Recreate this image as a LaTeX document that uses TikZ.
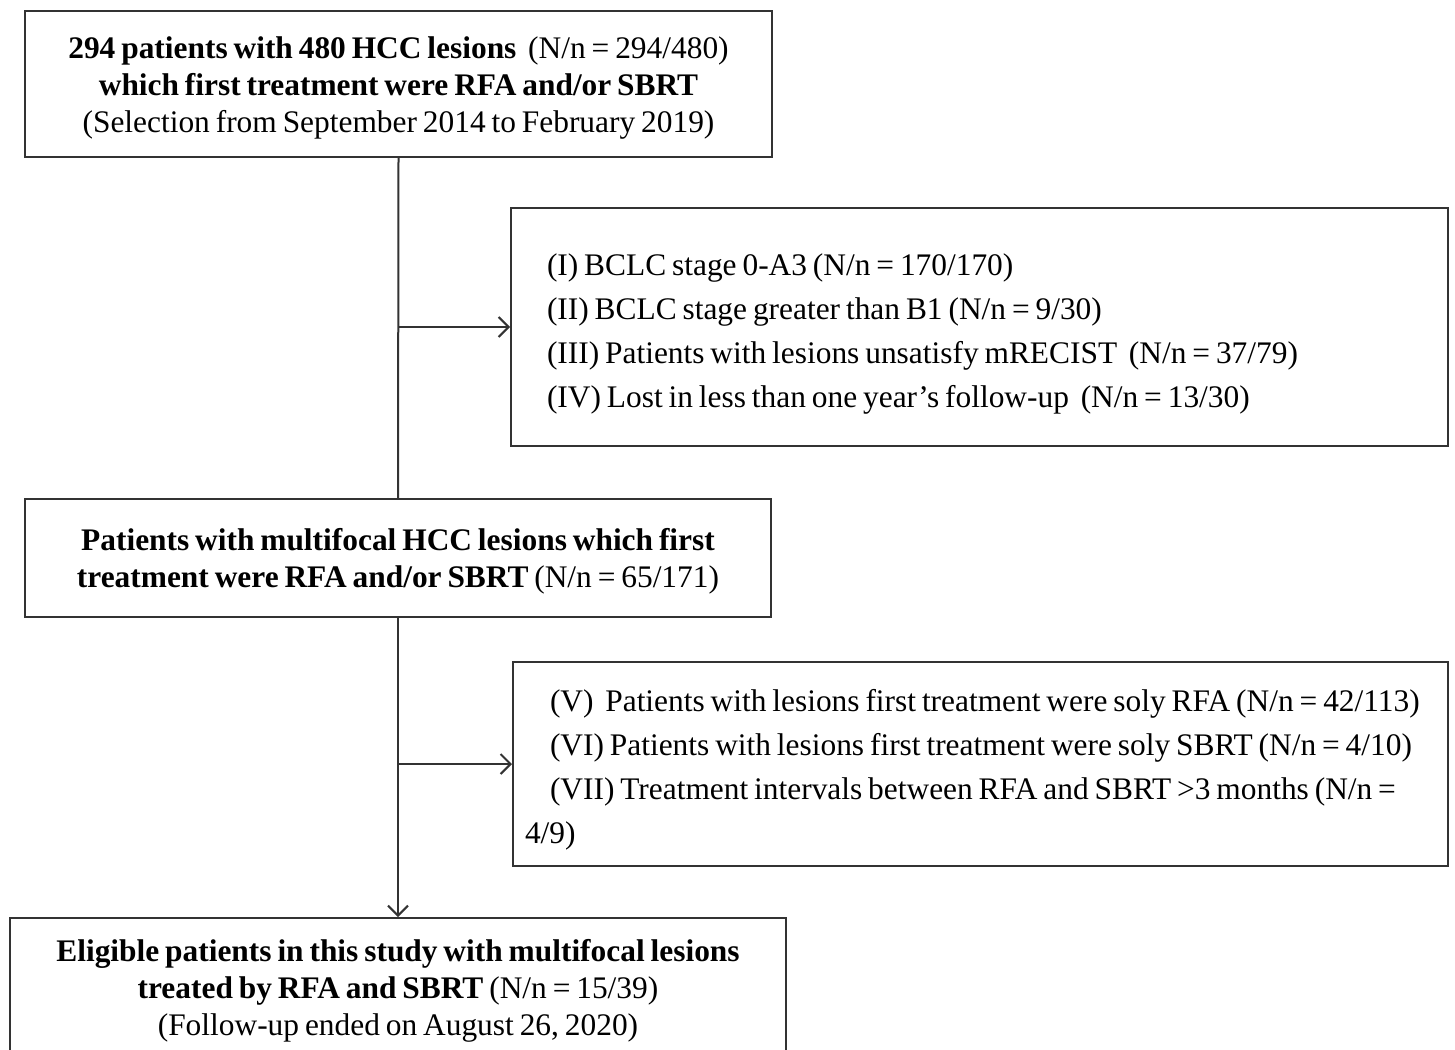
\documentclass[tikz,border=0pt]{standalone}
\usepackage{fontspec}
\setmainfont[WordSpace=0.75]{Liberation Serif}
\usetikzlibrary{arrows.meta,positioning,calc}
\newcommand{\topgap}[1]{\rule{0pt}{#1}}
\tikzset{
  flowbox/.style={draw=black!80, line width=1pt, align=center, inner sep=0pt,
    font=\fontsize{15.7}{18.5}\selectfont},
  critbox/.style={draw=black!80, line width=1pt, align=flush left, inner sep=0pt,
    font=\fontsize{15.7}{22}\selectfont},
  flowline/.style={draw=black!80, line width=1pt},
}
\begin{document}
\begin{tikzpicture}[x=0.5pt, y=-0.5pt]
    \useasboundingbox (0,0) rectangle (1455,1049);
    \node[flowbox, minimum width=373.5pt, minimum height=73pt] (start) at (398.5,84) {%
      \topgap{15pt}\textbf{294 patients with 480 HCC lesions} \ (N/n = 294/480)\\
      \textbf{which first treatment were RFA and/or SBRT}\\
      (Selection from September 2014 to February 2019)};
    \node[critbox, minimum width=468.5pt, minimum height=119pt, text width=468.5pt] (excl) at (979.5,327) {%
      \hspace*{18pt}\topgap{18pt}(I) BCLC stage 0-A3 (N/n = 170/170)\\
      \hspace*{18pt}(II) BCLC stage greater than B1 (N/n = 9/30)\\
      \hspace*{18pt}(III) Patients with lesions unsatisfy mRECIST \ (N/n = 37/79)\\
      \hspace*{18pt}(IV) Lost in less than one year's follow-up \ (N/n = 13/30)};
    \node[flowbox, minimum width=373pt, minimum height=59pt] (multi) at (398,558) {%
      \topgap{14pt}\textbf{Patients with multifocal HCC lesions which first}\\
      \textbf{treatment were RFA and/or SBRT} (N/n = 65/171)};
    \node[critbox, minimum width=467.5pt, minimum height=102pt, text width=455.5pt] (excl2) at (980.5,764) {%
      \hspace*{12.5pt}\topgap{17pt}(V) \ Patients with lesions first treatment were soly RFA (N/n = 42/113)\\
      \hspace*{12.5pt}(VI) Patients with lesions first treatment were soly SBRT (N/n = 4/10)\\
      \hspace*{12.5pt}(VII) Treatment intervals between RFA and SBRT >3 months (N/n =\\
      4/9)};
    \node[flowbox, minimum width=388pt, minimum height=70pt] (final) at (398,988) {%
      \topgap{14pt}\textbf{Eligible patients in this study with multifocal lesions}\\
      \textbf{treated by RFA and SBRT} (N/n = 15/39)\\
      (Follow-up ended on August 26, 2020)};
    % main flow
    \draw[flowline] (start.south) -- (multi.north);
    \draw[flowline, -{Straight Barb[length=5pt]}] (multi.south) -- (final.north);
    % exclusions
    \coordinate (c1) at (start.south |- excl.west);
    \coordinate (c2) at (multi.south |- excl2.west);
    \draw[flowline, -{Straight Barb[length=5pt]}] (c1) -- (excl.west);
    \draw[flowline, -{Straight Barb[length=5pt]}] (c2) -- (excl2.west);
\end{tikzpicture}
\end{document}
